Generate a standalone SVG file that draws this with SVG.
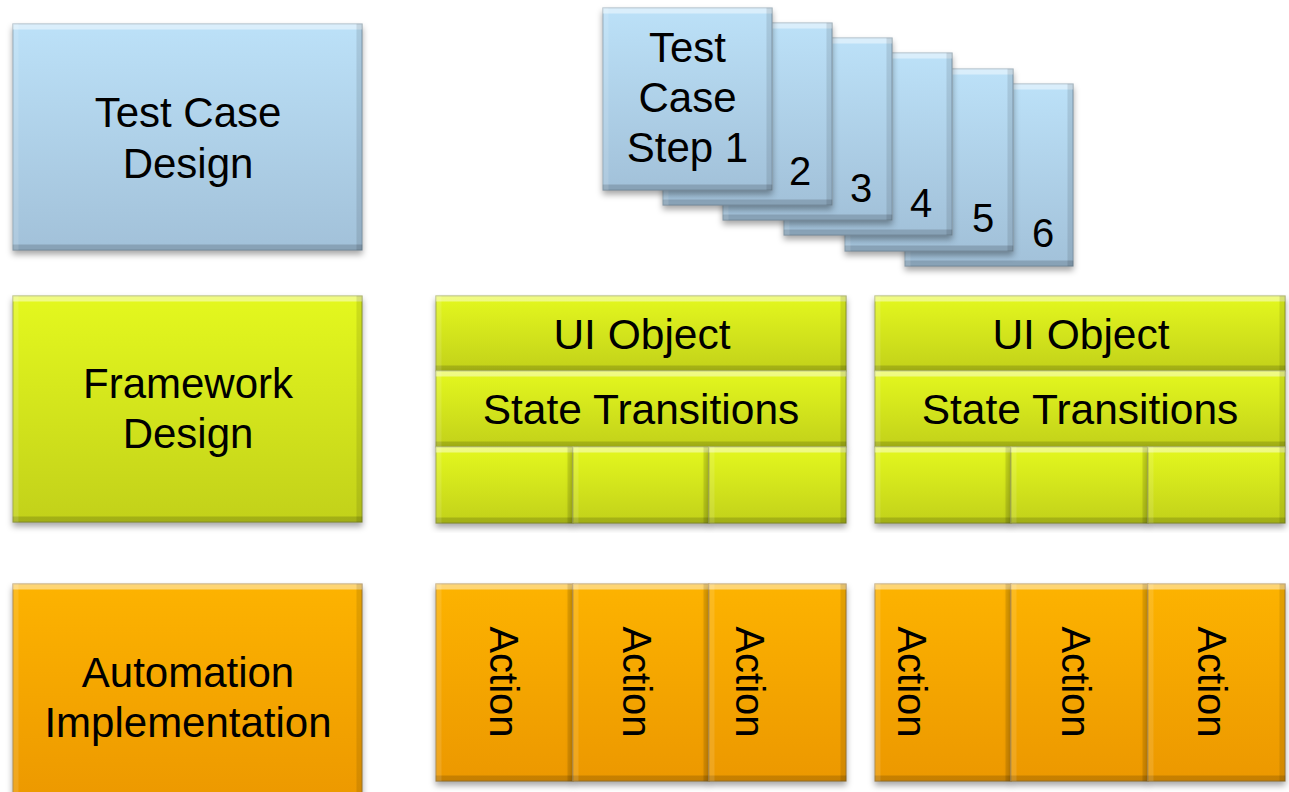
<svg xmlns="http://www.w3.org/2000/svg" width="1289" height="792" viewBox="0 0 1289 792">
<defs>
<linearGradient id="gBlue" x1="0" y1="0" x2="0" y2="1">
<stop offset="0" stop-color="#bce1f8"/><stop offset="1" stop-color="#a2c1d9"/>
</linearGradient>
<linearGradient id="gGreen" x1="0" y1="0" x2="0" y2="1">
<stop offset="0" stop-color="#e4f81e"/><stop offset="1" stop-color="#c2d11a"/>
</linearGradient>
<linearGradient id="gOrange" x1="0" y1="0" x2="0" y2="1">
<stop offset="0" stop-color="#fdb300"/><stop offset="1" stop-color="#ec9800"/>
</linearGradient>
<filter id="bevel" x="-8%" y="-8%" width="116%" height="120%" color-interpolation-filters="sRGB">
<feOffset in="SourceAlpha" dy="6" result="d"/>
<feComposite in="SourceAlpha" in2="d" operator="out" result="topband"/>
<feFlood flood-color="#ffffff" flood-opacity="0.45"/>
<feComposite in2="topband" operator="in" result="hl"/>
<feOffset in="SourceAlpha" dy="-6" result="u"/>
<feComposite in="SourceAlpha" in2="u" operator="out" result="botband"/>
<feFlood flood-color="#000000" flood-opacity="0.16"/>
<feComposite in2="botband" operator="in" result="bs"/>
<feOffset in="SourceAlpha" dx="-6" result="l"/>
<feComposite in="SourceAlpha" in2="l" operator="out" result="rband"/>
<feFlood flood-color="#000000" flood-opacity="0.10"/>
<feComposite in2="rband" operator="in" result="rs"/>
<feOffset in="SourceAlpha" dx="6" result="r"/>
<feComposite in="SourceAlpha" in2="r" operator="out" result="lband"/>
<feFlood flood-color="#ffffff" flood-opacity="0.12"/>
<feComposite in2="lband" operator="in" result="ls"/>
<feGaussianBlur in="SourceAlpha" stdDeviation="3"/>
<feOffset dy="4" result="sh"/>
<feFlood flood-color="#000000" flood-opacity="0.35"/>
<feComposite in2="sh" operator="in" result="shadow"/>
<feMerge>
<feMergeNode in="shadow"/>
<feMergeNode in="SourceGraphic"/>
<feMergeNode in="hl"/>
<feMergeNode in="bs"/>
<feMergeNode in="rs"/>
<feMergeNode in="ls"/>
</feMerge>
</filter>
</defs>
<style>
.blue{fill:url(#gBlue);stroke:#8aa5ba;stroke-width:1;filter:url(#bevel)}
.green{fill:url(#gGreen);stroke:#9aa62a;stroke-width:1;filter:url(#bevel)}
.orange{fill:url(#gOrange);stroke:#b0812a;stroke-width:1;filter:url(#bevel)}
text{font-family:"Liberation Sans",Arial,sans-serif;font-size:40px;fill:#000;text-anchor:middle}
.big{font-size:42px}
.panel{font-size:42.5px}
</style>
<rect width="1289" height="792" fill="#ffffff"/>

<g id="test-case-design">
<rect class="blue" x="13" y="24" width="349" height="226"/>
<text class="big" x="188" y="127">Test Case</text>
<text class="big" x="188" y="178">Design</text>
</g>

<g id="framework-design">
<rect class="green" x="13" y="296" width="349" height="226"/>
<text class="big" x="188" y="398">Framework</text>
<text class="big" x="188" y="448">Design</text>
</g>

<g id="automation-implementation">
<rect class="orange" x="13" y="584" width="349" height="222"/>
<text class="big" x="188" y="687">Automation</text>
<text class="big" x="188" y="737">Implementation</text>
</g>

<g id="steps">
<g id="step6"><rect class="blue" x="905" y="84" width="168" height="182"/><text x="1043" y="247">6</text></g>
<g id="step5"><rect class="blue" x="845" y="69" width="168" height="182"/><text x="983" y="232">5</text></g>
<g id="step4"><rect class="blue" x="784" y="53" width="168" height="182"/><text x="921" y="217">4</text></g>
<g id="step3"><rect class="blue" x="723" y="38" width="169" height="182"/><text x="861" y="202">3</text></g>
<g id="step2"><rect class="blue" x="663" y="23" width="169" height="182"/><text x="800" y="185">2</text></g>
<g id="step1"><rect class="blue" x="603" y="8" width="169" height="182"/>
<text class="big" x="687.5" y="62">Test</text>
<text class="big" x="687.5" y="112">Case</text>
<text class="big" x="687.5" y="162">Step 1</text></g>
</g>

<g id="framework-left">
<rect class="green" x="436" y="296" width="410" height="75"/>
<text class="panel" x="642" y="349">UI Object</text>
<rect class="green" x="436" y="371" width="410" height="76"/>
<text class="panel" x="641" y="424">State Transitions</text>
<rect class="green" x="436" y="447" width="137" height="76"/>
<rect class="green" x="573" y="447" width="136" height="76"/>
<rect class="green" x="709" y="447" width="137" height="76"/>
</g>

<g id="framework-right">
<rect class="green" x="875" y="296" width="410" height="75"/>
<text class="panel" x="1081" y="349">UI Object</text>
<rect class="green" x="875" y="371" width="410" height="76"/>
<text class="panel" x="1080" y="424">State Transitions</text>
<rect class="green" x="875" y="447" width="136" height="76"/>
<rect class="green" x="1011" y="447" width="137" height="76"/>
<rect class="green" x="1148" y="447" width="137" height="76"/>
</g>

<g id="actions-left">
<rect class="orange" x="436" y="584" width="137" height="197"/>
<rect class="orange" x="573" y="584" width="136" height="197"/>
<rect class="orange" x="709" y="584" width="137" height="197"/>
<text transform="translate(490,682) rotate(90)">Action</text>
<text transform="translate(623,682) rotate(90)">Action</text>
<text transform="translate(736,682) rotate(90)">Action</text>
</g>

<g id="actions-right">
<rect class="orange" x="875" y="584" width="136" height="197"/>
<rect class="orange" x="1011" y="584" width="137" height="197"/>
<rect class="orange" x="1148" y="584" width="137" height="197"/>
<text transform="translate(898,682) rotate(90)">Action</text>
<text transform="translate(1062,682) rotate(90)">Action</text>
<text transform="translate(1198,682) rotate(90)">Action</text>
</g>

<g id="connectors"></g>
</svg>
